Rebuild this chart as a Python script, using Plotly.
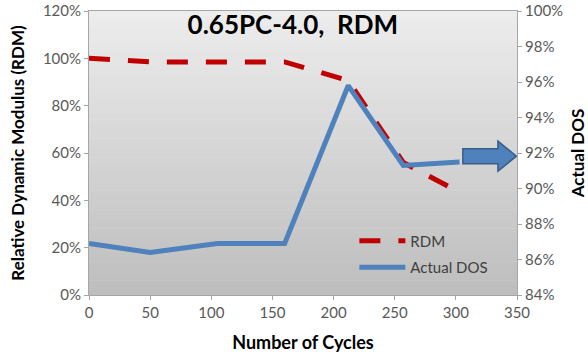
import plotly.graph_objects as go

# Freeze-thaw cycles and measured values
cycles = [0, 50, 105, 160, 212, 257, 303]
rdm = [1.000, 0.985, 0.985, 0.985, 0.906, 0.56, 0.434]          # left axis
actual_dos = [0.869, 0.864, 0.869, 0.869, 0.958, 0.913, 0.915]  # right axis

left_ticks = [0, 0.2, 0.4, 0.6, 0.8, 1.0, 1.2]
right_ticks = [0.84, 0.86, 0.88, 0.90, 0.92, 0.94, 0.96, 0.98, 1.00]
x_ticks = [0, 50, 100, 150, 200, 250, 300, 350]

FONT = "Lato"
TICK_COLOR = "#595959"
AXIS_LINE = "#a6a6a6"

fig = go.Figure()

fig.add_trace(go.Scatter(
    x=cycles, y=rdm, name="RDM", mode="lines", legendgroup="rdm",
    line=dict(color="#c00000", width=5, dash="21px,18px"),
    yaxis="y",
))
fig.add_trace(go.Scatter(
    x=cycles, y=actual_dos, name="Actual DOS", mode="lines", legendgroup="dos",
    line=dict(color="#4f81bd", width=5),
    yaxis="y2",
))

# Vertical grey gradient behind the plot area
shapes = []
n_bands = 60
top_rgb = (237, 237, 237)
bot_rgb = (189, 189, 189)
for i in range(n_bands):
    t = (i + 0.5) / n_bands
    c = tuple(round(bot_rgb[k] + (top_rgb[k] - bot_rgb[k]) * t) for k in range(3))
    shapes.append(dict(
        type="rect", xref="x domain", yref="y domain",
        x0=0, x1=1, y0=i / n_bands, y1=(i + 1) / n_bands + 0.002,
        fillcolor="rgb(%d,%d,%d)" % c, line=dict(width=0), layer="below",
    ))

# Block arrow pointing to the right-hand axis
ax0, ax1, ax_tip = 305.7, 334.4, 349.5
ay, body_h, head_h = 0.9182, 0.0042, 0.0085
arrow_path = (
    f"M {ax0},{ay - body_h} L {ax1},{ay - body_h} L {ax1},{ay - head_h} "
    f"L {ax_tip},{ay} L {ax1},{ay + head_h} L {ax1},{ay + body_h} "
    f"L {ax0},{ay + body_h} Z"
)
shapes.append(dict(
    type="path", xref="x", yref="y2", path=arrow_path,
    fillcolor="#4f81bd", line=dict(color="#385d8a", width=1.5), layer="above",
))

fig.update_layout(
    width=588, height=360,
    margin=dict(l=89, r=71, t=11, b=65),
    paper_bgcolor="white",
    plot_bgcolor="rgba(0,0,0,0)",
    font=dict(family=FONT, color=TICK_COLOR, size=15),
    shapes=shapes,
    title=dict(
        text="<b>0.65PC-4.0,  RDM</b>",
        x=0.498, xanchor="center", y=0.932, yanchor="middle",
        font=dict(family=FONT, size=26, color="black"),
    ),
    xaxis=dict(
        range=[0, 350], tickvals=x_ticks, ticks="outside", ticklen=4,
        tickcolor=AXIS_LINE, showline=True, linecolor=AXIS_LINE, mirror=True,
        showgrid=False, zeroline=False, automargin=False,
        title=dict(text="<b>Number of Cycles</b>", standoff=16,
                   font=dict(family=FONT, size=18, color="black")),
    ),
    yaxis=dict(
        range=[0, 1.2], tickvals=left_ticks, tickformat=".0%",
        ticks="outside", ticklen=4, tickcolor=AXIS_LINE, automargin=False,
        showline=True, linecolor=AXIS_LINE, showgrid=False, zeroline=False,
        title=dict(text="<b>Relative Dynamic Modulus (RDM)</b>", standoff=13,
                   font=dict(family=FONT, size=17, color="black")),
    ),
    yaxis2=dict(
        range=[0.84, 1.0], tickvals=right_ticks, tickformat=".0%",
        overlaying="y", side="right", automargin=False,
        ticks="outside", ticklen=4, tickcolor=AXIS_LINE,
        showline=True, linecolor=AXIS_LINE, showgrid=False, zeroline=False,
        title=dict(text="<b>Actual DOS</b>", standoff=12,
                   font=dict(family=FONT, size=17, color="black")),
    ),
    legend=dict(
        x=0.62, y=0.248, xanchor="left", yanchor="top",
        bgcolor="rgba(0,0,0,0)", itemwidth=46,
        font=dict(family=FONT, size=15, color="#404040"),
        tracegroupgap=4,
    ),
    showlegend=True,
)

fig.write_html("out.html")
